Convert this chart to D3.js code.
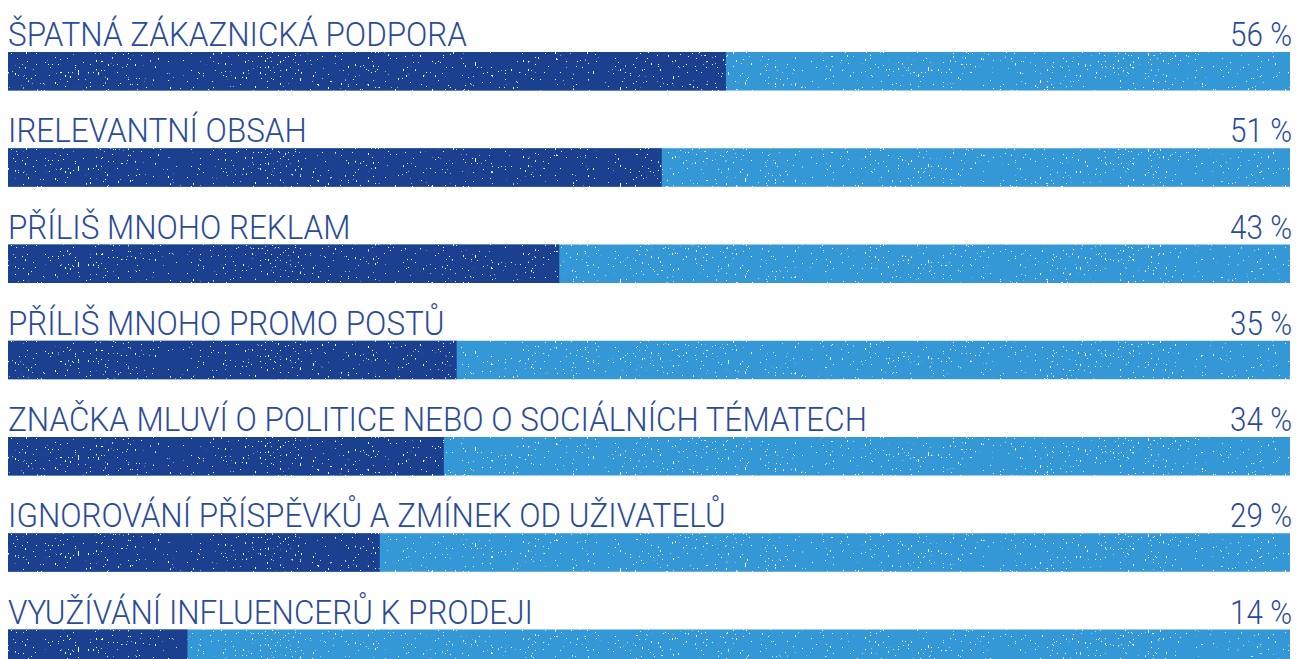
<!DOCTYPE html>
<html lang="cs">
<head>
  <meta charset="UTF-8">
  <title>Důvody</title>
  <script src="https://d3js.org/d3.v7.min.js"></script>
  <style>
    body{
      margin:0;
      background:#ffffff;
    }
    /* thin uppercase labels */
    .label{
      font-family: Roboto, "Open Sans", sans-serif;
      font-weight: 300;
      font-size: 34px;
      fill: #2a4b99;
    }
  </style>
</head>
<body>
<div id="chart"></div>
<script>
// data
var categories = [
  "ŠPATNÁ ZÁKAZNICKÁ PODPORA",
  "IRELEVANTNÍ OBSAH",
  "PŘÍLIŠ MNOHO REKLAM",
  "PŘÍLIŠ MNOHO PROMO POSTŮ",
  "ZNAČKA MLUVÍ O POLITICE NEBO O SOCIÁLNÍCH TÉMATECH",
  "IGNOROVÁNÍ PŘÍSPĚVKŮ A ZMÍNEK OD UŽIVATELŮ",
  "VYUŽÍVÁNÍ INFLUENCERŮ K PRODEJI"
];
var values = [56, 51, 43, 35, 34, 29, 14];
var valueLabels = ["56 %", "51 %", "43 %", "35 %", "34 %", "29 %", "14 %"];

var width = 1308;
var height = 659;
var left = 8;
var right = 1290;
var darkBlue = "#1f4190";
var lightBlue = "#3598d6";

var svg = d3.select("#chart").append("svg")
  .attr("width", width)
  .attr("height", height);

// sparse white specks like the printed texture
var defs = svg.append("defs");
var filt = defs.append("filter").attr("id", "grain")
  .attr("x", 0).attr("y", 0).attr("width", 1).attr("height", 1);
filt.append("feTurbulence")
  .attr("type", "fractalNoise")
  .attr("baseFrequency", "0.6 0.35")
  .attr("numOctaves", 2)
  .attr("seed", 7)
  .attr("result", "noise");
filt.append("feColorMatrix")
  .attr("in", "noise")
  .attr("type", "matrix")
  .attr("values", "0 0 0 0 1  0 0 0 0 1  0 0 0 0 1  40 0 0 0 -29")
  .attr("result", "spots");
filt.append("feComposite")
  .attr("in", "spots").attr("in2", "SourceGraphic")
  .attr("operator", "atop");

// scales
var x = d3.scaleLinear()
  .domain([0, 100])
  .range([left, right]);

var y = d3.scaleBand()
  .domain(categories)
  .range([52, 668])
  .paddingInner(0.6)
  .paddingOuter(0)
  .align(0);

var rows = svg.selectAll("g.row")
  .data(categories)
  .enter()
  .append("g")
    .attr("class", "row")
    .attr("transform", function(d){ return "translate(0," + y(d) + ")"; });

// full (light) bar
rows.append("rect")
  .attr("x", x(0))
  .attr("y", 0)
  .attr("width", x(100) - x(0))
  .attr("height", y.bandwidth())
  .attr("fill", lightBlue)
  .attr("filter", "url(#grain)");

// value (dark) bar
rows.append("rect")
  .attr("x", x(0))
  .attr("y", 0)
  .attr("width", function(d, i){ return x(values[i]) - x(0); })
  .attr("height", y.bandwidth())
  .attr("fill", darkBlue)
  .attr("filter", "url(#grain)");

// category text, squeezed a bit to look condensed
rows.append("text")
  .attr("class", "label")
  .attr("transform", "translate(" + left + ",-6) scale(0.925,1)")
  .text(function(d){ return d; });

// percent text on the right
rows.append("text")
  .attr("class", "label")
  .attr("text-anchor", "end")
  .attr("transform", "translate(" + (right + 2) + ",-6) scale(0.87,1)")
  .text(function(d, i){ return valueLabels[i]; });
</script>
</body>
</html>
